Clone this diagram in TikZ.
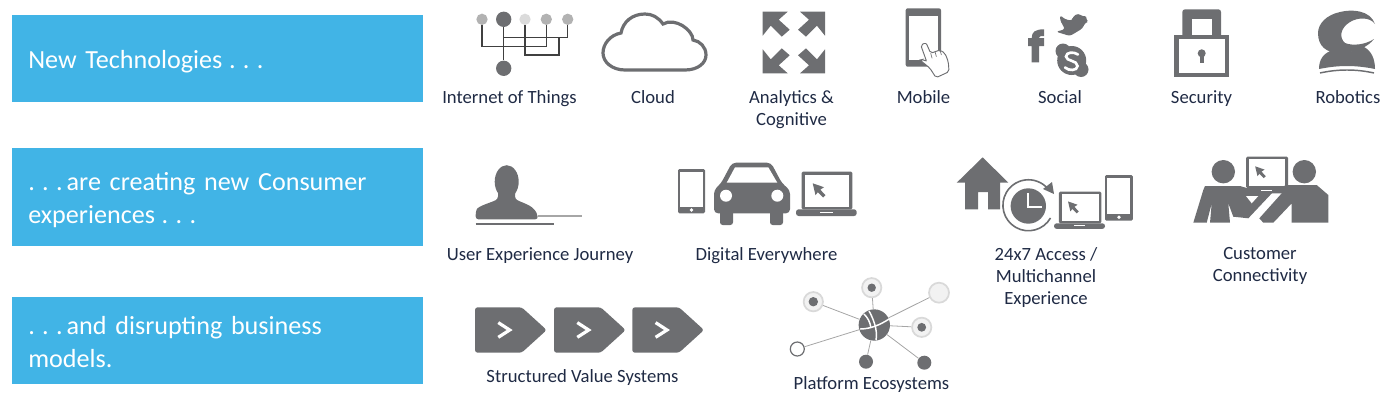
\documentclass[tikz,border=0pt]{standalone}
\usepackage{fontspec}
\setmainfont{Carlito}
\usepackage{xcolor}
\definecolor{bannerblue}{HTML}{41B4E6}
\definecolor{icongrey}{HTML}{6D6E71}
\definecolor{wiregrey}{HTML}{A6A6A6}
\definecolor{labelnavy}{HTML}{1F2A44}
\newcommand{\dotrun}{.\hspace{5.5pt}.\hspace{5.5pt}.}

\tikzset{
  banner/.style={fill=bannerblue, text=white, anchor=north west, align=left, inner xsep=12pt, inner ysep=0pt, text width=284pt,
    font=\fontsize{19.6}{24.75}\selectfont},
  caption/.style={text=labelnavy, align=center, inner sep=0pt, font=\fontsize{14}{16.6}\selectfont},
  icon/.style={fill=icongrey, draw=none},
  hole/.style={fill=white, draw=none},
  iotdot/.style={circle, inner sep=0pt, minimum size=8.5pt},
  iotwire/.style={draw=black!75, line width=1.1pt},
  netdot/.style={circle, inner sep=0pt, fill=icongrey, minimum size=10.5pt},
  netring/.style={circle, inner sep=0pt, fill=black!5, draw=black!15, line width=1.3pt, minimum size=14.5pt},
  netline/.style={draw=wiregrey, line width=0.6pt},
  pics/laptop/.style={code={
    \fill[icon, rounded corners=1pt] (5.7,0) rectangle (56.3,37.6);
    \fill[hole] (9,3.3) rectangle (53,35);
    \fill[icon, rounded corners=2pt] (0,37.6) rectangle (60.7,44.3);
    \fill[hole] (24,39.8) rectangle (37,41.2);
    \fill[icon] (16.7,11.6) -- (28,15.5) -- (24.3,18) -- (29.5,23.5) -- (27,25.8) -- (21.8,20.5) -- (19.5,23.5) -- cycle;
  }},
  pics/handset/.style={code={
    \fill[icon, rounded corners=1pt] (0,0) rectangle (27,44.3);
    \fill[hole] (2.4,2.6) rectangle (24.6,37.6);
    \fill[hole] (13.5,41) circle (1.8);
  }},
}

\begin{document}
\begin{tikzpicture}[x=0.75pt, y=-0.75pt]
\useasboundingbox (0,0) rectangle (1399,415);

% Banners
\node[banner, minimum height=65.25pt, text height=18.5pt] (bannerone) at (12,15) {New Technologies\hspace{5pt}\dotrun};
\node[banner, minimum height=73.5pt, text height=17pt] (bannertwo) at (12,148) {\dotrun\hspace{3pt}are creating new Consumer\\experiences\hspace{5pt}\dotrun};
\node[banner, minimum height=65.25pt, text height=15.5pt] (bannerthree) at (12,297) {\dotrun\hspace{3pt}and disrupting business\\models.};

% Internet of Things
\node[iotdot, fill=black!30] (iot1) at (482,19.3) {};
\node[iotdot, fill=icongrey, minimum size=11.5pt] (iot2) at (503.7,19.3) {};
\node[iotdot, fill=black!14] (iot3) at (525,19.3) {};
\node[iotdot, fill=black!30] (iot4) at (546.3,19.3) {};
\node[iotdot, fill=black!30] (iot5) at (567.7,19.3) {};
\node[iotdot, fill=icongrey, minimum size=11.5pt] (iot6) at (503.7,68.3) {};
\coordinate (bus1) at (503.7,46.7);
\coordinate (bus2) at (503.7,37.7);
\coordinate (bus3) at (559,55);
\coordinate (bus4) at (559,37.7);
\draw[iotwire] (iot2) -- (iot6);
\draw[iotwire] (iot1) |- (bus1) -| (iot4);
\draw[iotwire] (iot5) |- (bus2);
\draw[iotwire] (iot3) |- (bus3) -- (bus4);

% Cloud
\draw[draw=icongrey, line width=2.4pt, fill=white] (625,70) -- (685,70) .. controls (698,70) and (706,63) .. (706,55)
  .. controls (706,47) and (700,41) .. (693,40) .. controls (693,30) and (675,17) .. (663,24)
  .. controls (658,17) and (652,14) .. (645,14) .. controls (632,14) and (623,22) .. (621,33)
  .. controls (610,35) and (603,44) .. (603,53) .. controls (603,62) and (612,70) .. (625,70) -- cycle;

% Analytics
\foreach \cx/\cy/\sx/\sy in {762.7/11.7/1/1, 825/11.7/-1/1, 762.7/73.3/1/-1, 825/73.3/-1/-1}
  \fill[icon, shift={(\cx,\cy)}, xscale=\sx, yscale=\sy] (0,0) -- (25,0) -- (16,8) -- (27,18) -- (19,25) -- (8,14) -- (0,24) -- cycle;

% Mobile
\fill[icon, rounded corners=1.5pt] (905.7,8.3) rectangle (941,66.7);
\fill[hole] (909,15.7) rectangle (937.7,60);
\draw[draw=icongrey, line width=0.7pt, fill=white, rounded corners=1.5pt] (920.7,45) -- (926,42.7) -- (930.7,53.3) -- (935,51.7)
  -- (940,50) -- (945,53.3) -- (948.3,61.7) -- (949,71.7) -- (936,77.7) -- (930,68.3) -- (920,60) -- (923.3,59.3) -- (926.7,61.7) -- cycle;
\foreach \fx/\fy in {930.7/53.3, 935/51.7, 940/50}
  \draw[draw=icongrey, line width=0.5pt] (\fx,\fy) -- ++(1.4,5);

% Social
\fill[icon] (1031.7,62.3) -- (1031.7,46) -- (1028,46) -- (1028,38) -- (1031.7,38)
  .. controls (1031.7,32) and (1035,29.3) .. (1044,29.3) -- (1044,36) .. controls (1040,36) and (1039,36.5) .. (1039,38)
  -- (1044,38) -- (1044,46) -- (1039,46) -- (1039,62.3) -- cycle;
\fill[icon, rounded corners=2pt] (1056,31.7) -- (1070,36) -- (1082.7,28.3) -- (1085,22.7) -- (1088.7,21.7) -- (1085.7,19.3) -- (1086.7,15.7)
  -- (1082.7,16.7) -- (1078.3,13.3) -- (1072.7,16.7) -- (1072.3,20.7) -- (1065,19.3) -- (1060,15) -- (1060,20) -- (1062.7,25) -- (1065,29.3) -- cycle;
\fill[icon] (1071.7,60.5) circle (14.5);
\fill[icon] (1063,51) circle (7.5);
\fill[icon] (1081,69.5) circle (7.5);
\draw[white, line width=2pt, line cap=round] (1078,54.5) .. controls (1074,51.5) and (1066,52) .. (1066,56.5)
  .. controls (1066,61.5) and (1077.5,60) .. (1077.5,66) .. controls (1077.5,71) and (1068.5,71) .. (1065,67.5);

% Security
\fill[icon, rounded corners=2pt] (1182.3,40) -- (1182.3,9.3) -- (1221,9.3) -- (1221,40) -- cycle;
\fill[hole] (1191.7,19) rectangle (1211.7,36);
\fill[icon] (1174,35) rectangle (1229.3,76.7);
\fill[hole] (1179,39.3) rectangle (1225,72.7);
\fill[icon] (1201.7,53.3) circle (4);
\fill[icon] (1199.7,54) rectangle (1203.7,63.3);

% Robotics
\fill[icon] (1375,24) .. controls (1370,10) and (1352,9) .. (1340,12) .. controls (1326,15) and (1318,24) .. (1318,33)
  .. controls (1318,46) and (1326,53) .. (1340,53) .. controls (1355,53) and (1368,47) .. (1374,39)
  .. controls (1365,45) and (1352,46) .. (1345,43) .. controls (1339,38) and (1340,28) .. (1350,22) .. controls (1358,17) and (1370,17) .. (1375,24) -- cycle;
\fill[icon] (1319,69) .. controls (1319,60) and (1323,53) .. (1333,50) .. controls (1345,54) and (1355,52) .. (1362,46)
  .. controls (1372,50) and (1375,60) .. (1375,69) .. controls (1355,65) and (1339,65) .. (1319,69) -- cycle;
\draw[icongrey, line width=1.1pt] (1320,73) .. controls (1338,69) and (1356,69) .. (1374,73);

% User Experience Journey
\fill[icon] (506.7,181.7) ellipse (12 and 16.5);
\fill[icon, rounded corners=2pt] (475.7,219.3) -- (475.7,212) .. controls (478,206) and (490,203) .. (498,199) -- (498,190) -- (515,190) -- (515,199)
  .. controls (525,204) and (536,206) .. (538,219.3) -- cycle;
\draw[draw=wiregrey, line width=1.5pt] (538,216) -- (582,216);
\draw[draw=icongrey, line width=1.5pt] (475.7,224) -- (554,224);

% Digital Everywhere
\pic at (678,169) {handset};
\fill[icon, rounded corners=3pt] (714,213.3) -- (714,190) -- (721,183.3) -- (732,162.7) -- (771,162.7) -- (782,183.3) -- (790,190) -- (790,213.3) -- cycle;
\fill[hole] (735,167.3) -- (768.3,167.3) -- (777.3,182.7) -- (726.7,182.7) -- cycle;
\fill[hole] (726,195.7) circle (6);
\fill[hole] (777.3,195.7) circle (6);
\fill[icon, rounded corners=2pt] (720,210) rectangle (733,225);
\fill[icon, rounded corners=2pt] (770,210) rectangle (783,225);
\pic at (796,171.7) {laptop};

% 24x7 Access
\fill[icon] (982.7,157.3) -- (1008.3,182.7) -- (1000,182.7) -- (1000,209.3) -- (988,209.3) -- (988,192) -- (978,192) -- (978,209.3) -- (965,209.3) -- (965,182.7) -- (956.7,182.7) -- cycle;
\fill[white] (1028.3,206) circle (27);
\fill[icon] (1028.3,206) circle (17.7);
\draw[white, line width=1.5pt] (1028.3,193.3) -- (1028.3,206.7) -- (1041.7,206.7);
\draw[icongrey, line width=1.2pt] (1050.5,218) arc[start angle=30, end angle=325, radius=25.5];
\fill[icon] (1052,182) -- (1054,194) -- (1043,189) -- cycle;
\pic[scale=0.84] at (1054,191.7) {laptop};
\pic[scale=1.03] at (1105,175) {handset};

% Customer Connectivity
\pic[scale=0.83] at (1241.3,156.7) {laptop};
\fill[icon] (1223.3,171.7) circle (11.7);
\fill[icon] (1304.3,171.7) circle (11.7);
\fill[icon] (1205,186) -- (1240,186) -- (1261.7,192.7) -- (1273.3,191.7) -- (1248.3,218.3) -- (1233.3,216.7) -- (1228.3,203.3) -- (1230,222.7)
  -- (1210,222.7) -- (1211.7,203.3) -- (1206.7,222.7) -- (1193.3,222.7) -- (1203.3,190) -- cycle;
\fill[icon] (1285,185) -- (1316.7,185) -- (1328.3,195) -- (1328.3,222.7) -- (1291.7,222.7) -- (1291.7,203.3) -- (1273.3,222.7) -- (1263.3,222.7)
  -- (1259.3,218.3) -- (1281.7,193.3) -- cycle;
\fill[hole] (1246,196) -- (1258.3,196) -- (1251.7,203.3) -- cycle;

% Structured Value Systems
\foreach \tagx in {475, 554, 632.3} {
  \fill[icon, shift={(\tagx,307.3)}, rounded corners=2pt] (0,0) -- (46.7,0) -- (71.7,22.7) -- (46.7,45.4) -- (0,45.4) -- cycle;
  \draw[white, line width=2.4pt, shift={(\tagx,307.3)}] (23.3,15.3) -- (34.7,22.7) -- (23.3,30);
}

% Platform Ecosystems
\node[circle, inner sep=0pt, fill=icongrey, minimum size=23.5pt] (hub) at (874.3,325) {};
\node[netring] (net1) at (813.3,301.7) {};
\node[netring] (net2) at (871.7,287.7) {};
\node[netring, minimum size=15pt] (net3) at (939,292.7) {};
\node[netring] (net4) at (921.7,327.3) {};
\node[netdot, fill=white, draw=icongrey, line width=0.9pt] (net5) at (797.3,349) {};
\node[netdot] (net6) at (866,361.7) {};
\node[netdot] (net7) at (924.3,362.7) {};
\foreach \v in {net1, net2, net3, net4, net5, net6, net7}
  \draw[netline] (hub) -- (\v);
\fill[icon] (813.3,301.7) circle (4.7);
\fill[icon] (871.7,287.7) circle (4.2);
\fill[icon] (921.7,327.3) circle (4.4);
\draw[white, line width=1.1pt] (860,329) .. controls (870,329) and (880,325) .. (889,319);
\draw[white, line width=1.1pt] (869,311) .. controls (873,318) and (878,330) .. (876,340);
\draw[white, line width=1.1pt] (864,314) .. controls (868,318) and (870,322) .. (871,328);

% Captions
\node[caption, anchor=base] (capiot) at (509.5,103) {Internet of Things};
\node[caption, anchor=base] (capcloud) at (653,103) {Cloud};
\node[caption, anchor=north] (capana) at (791.5,90) {Analytics \&\\Cognitive};
\node[caption, anchor=base] (capmobile) at (923.5,103) {Mobile};
\node[caption, anchor=base] (capsocial) at (1060,103) {Social};
\node[caption, anchor=base] (capsecurity) at (1201.5,103) {Security};
\node[caption, anchor=base] (caprobot) at (1348,103) {Robotics};
\node[caption, anchor=base] (capuser) at (540,260) {User Experience Journey};
\node[caption, anchor=base] (capdigital) at (766.5,260) {Digital Everywhere};
\node[caption, anchor=north] (capaccess) at (1046,247) {24x7 Access /\\Multichannel\\Experience};
\node[caption, anchor=north] (capcust) at (1260,247) {Customer\\Connectivity};
\node[caption, anchor=base] (capvalue) at (582.5,382) {Structured Value Systems};
\node[caption, anchor=base] (capplatform) at (871.5,389) {Platform Ecosystems};
\end{tikzpicture}
\end{document}
